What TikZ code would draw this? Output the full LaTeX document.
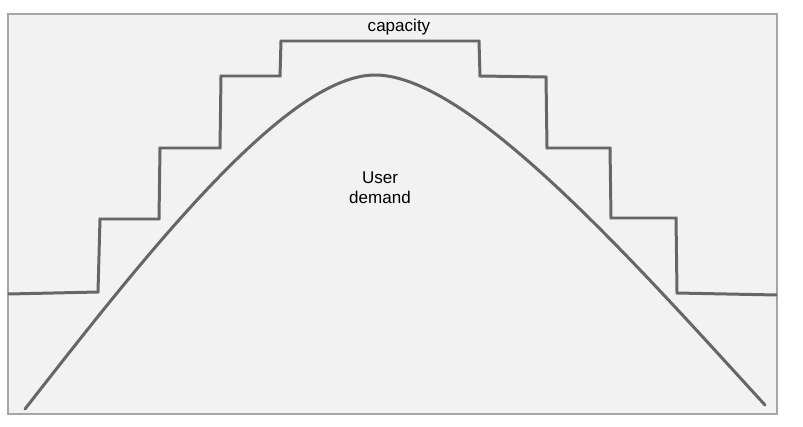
\documentclass[tikz,border=0pt]{standalone}
\usepackage{fontspec}
\setmainfont{Liberation Sans}
\usetikzlibrary{positioning}

\begin{document}
\begin{tikzpicture}[x=0.02cm, y=-0.02cm,
  plotline/.style={line width=1.7pt, draw=black!60, line join=miter},
  lbl/.style={font=\fontsize{9.7}{11.5}\selectfont, align=center, inner sep=0pt}]
\useasboundingbox (0,0) rectangle (803,426);
\draw[fill=black!5, draw=black!35, line width=0.6pt] (8,14) rectangle (777,414);
% capacity steps
\draw[plotline] (8,294)--(98,292)--(100,219)--(159,219)--(160,148)--(220,148)--(221,76)--(280,76)--(281,41)--(479,41)--(480,76)--(546,77)--(547,148)--(610,148)--(611,218)--(676,218)--(677,293)--(777,295);
% demand curve
\draw[plotline, line cap=round] (25,409) .. controls (140,262) and (285,75) .. (375,75)
  .. controls (469,75) and (634,262) .. (765,405);
\node[lbl] (cap) at (399,27) {capacity};
\node[lbl] (dem) at (380,188) {User\\demand};
\end{tikzpicture}
\end{document}
